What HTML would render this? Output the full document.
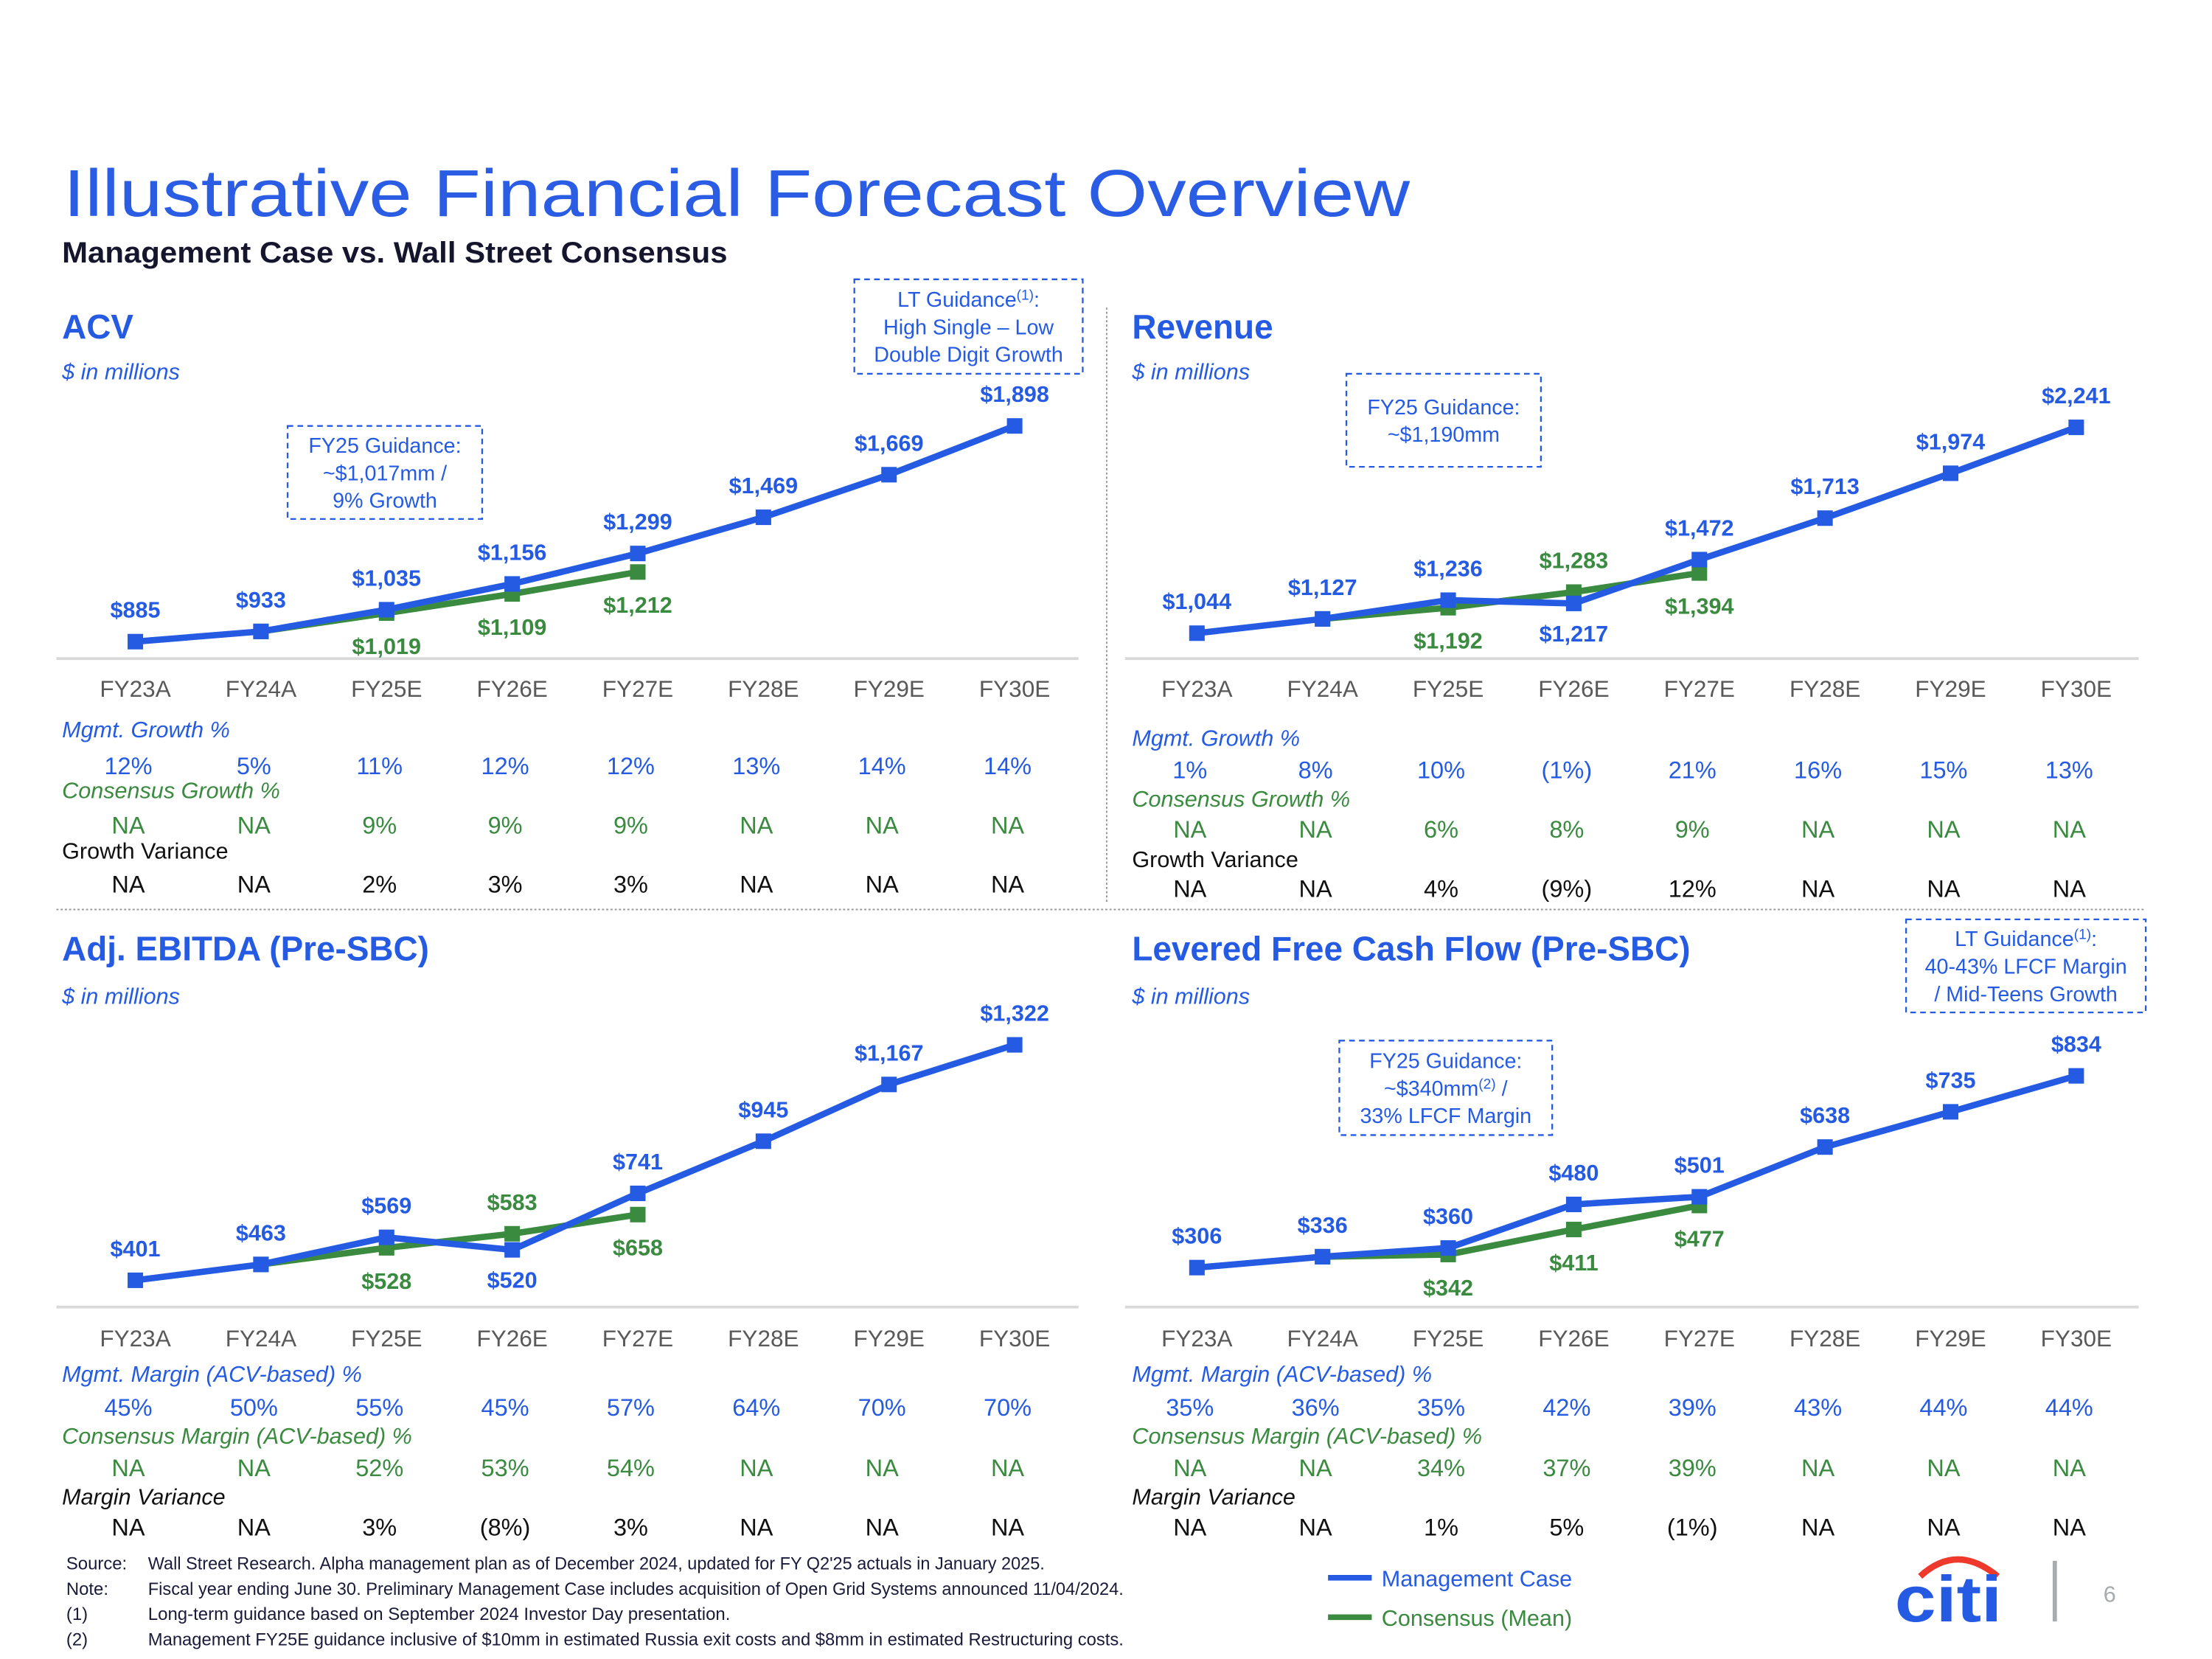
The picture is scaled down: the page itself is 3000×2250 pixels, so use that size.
<!DOCTYPE html>
<html><head><meta charset="utf-8">
<style>
html,body{margin:0;padding:0;background:#fff;}
svg{display:block;}
text{font-family:"Liberation Sans",Arial,sans-serif;}
.nar{font-family:"Liberation Sans Narrow","Liberation Sans",sans-serif;}
</style></head>
<body>
<svg id="s" width="3000" height="2250" viewBox="0 0 1569 1176.5" xmlns="http://www.w3.org/2000/svg">
<text x="45" y="153" font-size="47" fill="#2a5ce4" textLength="955" lengthAdjust="spacingAndGlyphs">Illustrative Financial Forecast Overview</text>
<text x="44" y="186" font-size="21" font-weight="bold" fill="#15152e" textLength="472" lengthAdjust="spacingAndGlyphs">Management Case vs. Wall Street Consensus</text>
<line x1="785" y1="218" x2="785" y2="640" stroke="#999" stroke-width="1" stroke-dasharray="1.5,1.5"/>
<line x1="40" y1="645" x2="1522" y2="645" stroke="#999" stroke-width="1" stroke-dasharray="1.5,1.5"/>
<g id="panels"></g>
<g fill="#1a1a3a" font-size="12.5" class="nar">
<text x="47" y="1113">Source:</text><text x="105" y="1113" textLength="636" lengthAdjust="spacingAndGlyphs">Wall Street Research. Alpha management plan as of December 2024, updated for FY Q2'25 actuals in January 2025.</text>
<text x="47" y="1131">Note:</text><text x="105" y="1131" textLength="692" lengthAdjust="spacingAndGlyphs">Fiscal year ending June 30. Preliminary Management Case includes acquisition of Open Grid Systems announced 11/04/2024.</text>
<text x="47" y="1149">(1)</text><text x="105" y="1149" textLength="413" lengthAdjust="spacingAndGlyphs">Long-term guidance based on September 2024 Investor Day presentation.</text>
<text x="47" y="1167">(2)</text><text x="105" y="1167" textLength="692" lengthAdjust="spacingAndGlyphs">Management FY25E guidance inclusive of $10mm in estimated Russia exit costs and $8mm in estimated Restructuring costs.</text>
</g>
<g>
<line x1="942" y1="1119" x2="973" y2="1119" stroke="#255be3" stroke-width="4"/>
<text x="980" y="1125" font-size="16" fill="#255be3">Management Case</text>
<line x1="942" y1="1147" x2="973" y2="1147" stroke="#3a8a3f" stroke-width="4"/>
<text x="980" y="1153" font-size="16" fill="#3a8a3f">Consensus (Mean)</text>
</g>
<g>
<path d="M1362,1118 Q1388,1094 1417,1118" fill="none" stroke="#ee3a2c" stroke-width="4.5"/>
<text x="1344" y="1150" font-size="46" font-weight="bold" fill="#255be3" textLength="76" lengthAdjust="spacingAndGlyphs">citi</text>
</g>
<rect x="1456" y="1107" width="3" height="43" fill="#a7abae"/>
<text x="1492" y="1136" font-size="16" fill="#a7abae">6</text>
</svg>
<script>
const NS="http://www.w3.org/2000/svg";
const BLUE="#255be3",GREEN="#3a8a3f";
const categories=["FY23A","FY24A","FY25E","FY26E","FY27E","FY28E","FY29E","FY30E"];
const acvMgmt=[885,933,1035,1156,1299,1469,1669,1898];
const acvCons=[null,933,1019,1109,1212,null,null,null];
const revMgmt=[1044,1127,1236,1217,1472,1713,1974,2241];
const revCons=[null,1127,1192,1283,1394,null,null,null];
const ebMgmt=[401,463,569,520,741,945,1167,1322];
const ebCons=[null,463,528,583,658,null,null,null];
const fcfMgmt=[306,336,360,480,501,638,735,834];
const fcfCons=[null,336,342,411,477,null,null,null];
const acvRows=[["12%","5%","11%","12%","12%","13%","14%","14%"],["NA","NA","9%","9%","9%","NA","NA","NA"],["NA","NA","2%","3%","3%","NA","NA","NA"]];
const revRows=[["1%","8%","10%","(1%)","21%","16%","15%","13%"],["NA","NA","6%","8%","9%","NA","NA","NA"],["NA","NA","4%","(9%)","12%","NA","NA","NA"]];
const ebRows=[["45%","50%","55%","45%","57%","64%","70%","70%"],["NA","NA","52%","53%","54%","NA","NA","NA"],["NA","NA","3%","(8%)","3%","NA","NA","NA"]];
const fcfRows=[["35%","36%","35%","42%","39%","43%","44%","44%"],["NA","NA","34%","37%","39%","NA","NA","NA"],["NA","NA","1%","5%","(1%)","NA","NA","NA"]];

function el(tag,attrs,parent,txt){const e=document.createElementNS(NS,tag);for(const k in attrs)e.setAttribute(k,attrs[k]);if(txt!==undefined)e.textContent=txt;parent.appendChild(e);return e;}
const root=document.getElementById("panels");
function fmt(v){return "$"+v.toLocaleString("en-US");}

const panels=[
 {key:"acv",title:"ACV",x0:96,ax:40,ax1:765,axisY:467,catY:494,v0:885,y0:455,v1:1898,y1:302,mg:acvMgmt,cs:acvCons,rows:acvRows,
  labels:["Mgmt. Growth %","Consensus Growth %","Growth Variance"],ly:[523,566,609],vy:[549,591,633],tx:44,ty:240,sy:269},
 {key:"revenue",title:"Revenue",x0:849,ax:798,ax1:1517,axisY:467,catY:494,v0:1044,y0:449,v1:2241,y1:303,mg:revMgmt,cs:revCons,rows:revRows,
  labels:["Mgmt. Growth %","Consensus Growth %","Growth Variance"],ly:[529,572,615],vy:[552,594,636],tx:803,ty:240,sy:269},
 {key:"ebitda",title:"Adj. EBITDA (Pre-SBC)",x0:96,ax:40,ax1:765,axisY:927,catY:955,v0:401,y0:908,v1:1322,y1:741,mg:ebMgmt,cs:ebCons,rows:ebRows,
  labels:["Mgmt. Margin (ACV-based) %","Consensus Margin (ACV-based) %","Margin Variance"],ly:[980,1024,1067],vy:[1004,1047,1089],tx:44,ty:681,sy:712},
 {key:"lfcf",title:"Levered Free Cash Flow (Pre-SBC)",x0:849,ax:798,ax1:1517,axisY:927,catY:955,v0:306,y0:899,v1:834,y1:763,mg:fcfMgmt,cs:fcfCons,rows:fcfRows,
  labels:["Mgmt. Margin (ACV-based) %","Consensus Margin (ACV-based) %","Margin Variance"],ly:[980,1024,1067],vy:[1004,1047,1089],tx:803,ty:681,sy:712}
];
const STEP=89.1;
panels.forEach(p=>{
 const g=el("g",{},root);
 
 
 const xs=i=>p.x0+i*STEP;
 const ys=v=>p.y0+(v-p.v0)*(p.y1-p.y0)/(p.v1-p.v0);
 const t=el("text",{x:p.tx,y:p.ty,"font-size":24,"font-weight":"bold",fill:BLUE},g,p.title);
 
 
 const st=el("text",{x:p.tx,y:p.sy,"font-size":16,"font-style":"italic",fill:BLUE},g,"$ in millions");
 
 
 const axl=el("line",{x1:p.ax,x2:p.ax1,y1:p.axisY,y2:p.axisY,stroke:"#d9d9d9","stroke-width":2},g);
 
 
 categories.forEach((c,i)=>{
  const ct=el("text",{x:xs(i),y:p.catY,"font-size":16.5,fill:"#595959","text-anchor":"middle"},g,c);
  
  
 });
 [[p.cs,GREEN,"consensus"],[p.mg,BLUE,"management"]].forEach(([arr,col,nm])=>{
  const pts=[];arr.forEach((v,i)=>{if(v!=null)pts.push([xs(i),ys(v)]);});
  const pl=el("polyline",{points:pts.map(q=>q.join(",")).join(" "),fill:"none",stroke:col,"stroke-width":4.5,"stroke-linejoin":"miter"},g);
  
  
  arr.forEach((v,i)=>{if(v==null)return;
   const r=el("rect",{x:xs(i)-5.5,y:ys(v)-5.5,width:11,height:11,fill:col},g);
   
   
  });
 });
 p.mg.forEach((v,i)=>{
  const c=p.cs[i];
  const below=(c!=null&&v<c);
  const yy=below?ys(v)+27:ys(v)-17;
  const lt=el("text",{x:xs(i),y:yy,"font-size":16,"font-weight":"bold",fill:BLUE,"text-anchor":"middle","class":"nar"},g,fmt(v));
  
  
  if(c!=null&&i>=2){
   const cb=!below;
   const cy=cb?ys(c)+29:ys(c)-17;
   const clt=el("text",{x:xs(i),y:cy,"font-size":16,"font-weight":"bold",fill:GREEN,"text-anchor":"middle","class":"nar"},g,fmt(c));
   
   
  }
 });
 const cols=[BLUE,GREEN,"#111"];
 p.labels.forEach((lb,r)=>{
  const ht=el("text",{x:p.tx,y:p.ly[r],"font-size":16,"font-style":r<2||p.key=="ebitda"||p.key=="lfcf"?"italic":"normal",fill:cols[r]},g,lb);
  
  
  p.rows[r].forEach((v,i)=>{
   const vt=el("text",{x:xs(i)-5,y:p.vy[r],"font-size":17,fill:cols[r],"text-anchor":"middle"},g,v);
   
   
  });
 });
});
const boxes=[
 ["acv-lt-guidance",606,198,162,67,[["LT Guidance",1],"High Single – Low","Double Digit Growth"]],
 ["acv-fy25-guidance",204,302,138,66,["FY25 Guidance:","~$1,017mm /","9% Growth"]],
 ["revenue-fy25-guidance",955,265,138,66,["FY25 Guidance:","~$1,190mm"]],
 ["lfcf-lt-guidance",1352,652,170,66,[["LT Guidance",1],"40-43% LFCF Margin","/ Mid-Teens Growth"]],
 ["lfcf-fy25-guidance",950,738,151,67,["FY25 Guidance:",["~$340mm",2," /"],"33% LFCF Margin"]]
];
boxes.forEach(([nm,x,y,w,h,lines])=>{
 const g=el("g",{},root);
 
 
 el("rect",{x:x,y:y,width:w,height:h,fill:"#fff",stroke:BLUE,"stroke-width":1.2,"stroke-dasharray":"4,3"},g);
 const n=lines.length, lh=19.5, top=y+h/2-(n-1)*lh/2+5.5;
 lines.forEach((L,k)=>{
  const t=el("text",{x:x+w/2,y:top+k*lh,"font-size":15,fill:BLUE,"text-anchor":"middle"},g);
  if(typeof L==="string"){t.textContent=L;}
  else{el("tspan",{},t,L[0]);el("tspan",{"font-size":10,dy:-5},t,"("+L[1]+")");el("tspan",{dy:5},t,L[2]||":");}
 });
});
</script>
</body></html>
